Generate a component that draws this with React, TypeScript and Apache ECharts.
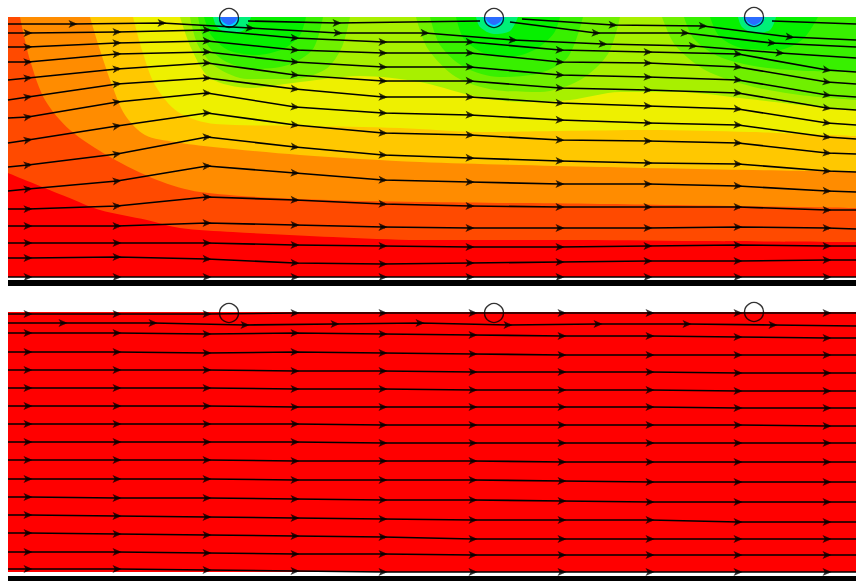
import React, { useEffect, useRef } from "react";
import * as echarts from "echarts";

type Pt = [number, number];

// Section geometry: horizontal distance (m) and depth below the top boundary (m)
const SECTION_LENGTH = 848;
const SECTION_DEPTH = 260;

// Wells sitting on the top boundary of both sections
const WELL_X = [221, 486, 746];
const WELL_DEPTH = [1, 1, 0];

// Pressure level colours, from the far field (level 0) down to the wells (level 11)
const LEVEL_COLORS = [
  "#ff0000", "#ff4a00", "#ff8c00", "#ffc800", "#eef000", "#a8f000",
  "#70f000", "#38f000", "#06f000", "#00f078", "#00d8ff", "#2a6cff",
];

// ---- Upper section: contour edges (each level fills from its edge up to the top) ----
const UPPER_LEVEL_0: Pt[] = [[0, 260], [848, 260]];
const UPPER_LEVEL_1: Pt[] = [[0, 156], [59, 180], [92, 193], [139, 203], [172, 211], [225, 215], [325, 220], [412, 223], [552, 223], [692, 224], [848, 225]];
const UPPER_LEVEL_2: Pt[] = [[12, 0], [22, 43], [37, 83], [62, 113], [102, 140], [149, 163], [192, 175], [292, 182], [412, 185], [592, 187], [848, 191]];
const UPPER_LEVEL_3: Pt[] = [[82, 0], [92, 33], [104, 68], [117, 98], [137, 118], [167, 125], [205, 130], [292, 138], [412, 145], [592, 150], [848, 155]];
const UPPER_LEVEL_4: Pt[] = [[125, 0], [134, 33], [147, 68], [170, 95], [207, 107], [292, 109], [392, 111], [472, 115], [552, 114], [642, 113], [742, 115], [848, 119]];
const UPPER_LEVEL_5: Pt[] = [[172, 0], [184, 33], [202, 61], [242, 71], [292, 65], [352, 59], [412, 65], [462, 78], [512, 85], [562, 83], [612, 75], [672, 75], [732, 81], [792, 88], [848, 93]];

// Drawdown around each well, levels 6 to 11
const WELL_1_LEVELS: Pt[][] = [
  [[182, 0], [190, 28], [208, 50], [240, 62], [285, 62], [318, 52], [334, 30], [342, 0]],
  [[190, 0], [197, 24], [215, 43], [245, 52], [280, 48], [305, 32], [315, 0]],
  [[196, 0], [203, 18], [220, 33], [248, 38], [275, 32], [292, 18], [298, 0]],
  [[205, 0], [209, 10], [221, 16], [236, 13], [243, 0]],
  [[210, 0], [213, 7], [221, 10], [229, 7], [232, 0]],
  [[212, 0], [215, 5], [221, 8], [227, 5], [230, 0]],
];
const WELL_2_LEVELS: Pt[][] = [
  [[408, 0], [420, 32], [448, 60], [487, 73], [532, 75], [572, 63], [600, 37], [612, 0]],
  [[422, 0], [432, 28], [456, 50], [492, 60], [532, 56], [560, 40], [575, 0]],
  [[448, 0], [456, 22], [476, 36], [502, 40], [528, 32], [546, 16], [552, 0]],
  [[468, 0], [472, 10], [486, 17], [502, 14], [510, 0]],
  [[475, 0], [478, 7], [486, 10], [494, 7], [497, 0]],
  [[477, 0], [480, 5], [486, 8], [492, 5], [495, 0]],
];
const WELL_3_LEVELS: Pt[][] = [
  [[654, 0], [667, 28], [697, 53], [742, 69], [792, 78], [848, 83]],
  [[676, 0], [686, 22], [712, 40], [752, 50], [800, 54], [848, 55]],
  [[702, 0], [712, 20], [738, 32], [770, 33], [795, 22], [810, 0]],
  [[730, 0], [734, 10], [746, 16], [762, 13], [768, 0]],
  [[735, 0], [738, 7], [746, 10], [754, 7], [757, 0]],
  [[737, 0], [740, 5], [746, 8], [752, 5], [755, 0]],
];

// ---- Lower section: uniform far-field level ----
const LOWER_LEVEL_0: Pt[] = [[0, 260], [848, 260]];

// ---- Streamlines (depth at each station; interior stations carry an arrow) ----
const UPPER_STATIONS = [0, 20, 109, 199, 287, 375, 462, 552, 640, 730, 819, 848];
const UPPER_STREAM_DEPTHS: number[][] = [
  [16, 16, 15, 13, 21, 25, 25, 33, 35, 37, 53, 55],
  [30, 30, 26, 24, 33, 36, 36, 45, 46, 50, 65, 67],
  [45, 45, 37, 35, 45, 50, 50, 58, 60, 63, 78, 80],
  [63, 61, 52, 46, 58, 64, 64, 71, 73, 76, 91, 93],
  [83, 80, 67, 61, 72, 80, 80, 86, 89, 92, 106, 108],
  [101, 100, 85, 76, 90, 96, 98, 103, 106, 108, 120, 122],
  [126, 123, 109, 96, 108, 116, 118, 123, 124, 126, 136, 137],
  [150, 148, 137, 120, 130, 138, 141, 144, 146, 147, 154, 155],
  [174, 172, 164, 149, 156, 163, 165, 167, 167, 169, 174, 175],
  [192, 192, 189, 180, 183, 187, 189, 190, 190, 190, 193, 193],
  [209, 209, 209, 206, 208, 210, 211, 211, 211, 210, 211, 212],
  [226, 226, 226, 226, 228, 229, 230, 230, 229, 228, 229, 229],
  [241, 241, 240, 242, 246, 247, 246, 245, 244, 244, 243, 243],
  [260, 260, 260, 260, 260, 260, 260, 260, 260, 260, 260, 260],
];
// Streamlines passing just beneath the wells and leaving them
const UPPER_STREAM_SHALLOW: Pt[][] = [
  [[0, 7], [65, 7], [154, 6], [242, 11], [330, 16], [417, 16], [505, 23], [595, 27], [685, 29], [772, 36], [848, 41]],
  [[240, 4], [329, 6], [472, 4]],
  [[502, 5], [588, 16], [677, 16], [764, 26], [848, 30]],
  [[514, 2], [605, 8], [695, 9], [782, 20], [848, 23]],
  [[764, 4], [848, 7]],
];

const LOWER_STATIONS = [0, 20, 109, 199, 287, 375, 465, 554, 642, 730, 819, 848];
const LOWER_STREAM_DEPTHS: number[][] = [
  [2, 2, 2, 2, 1, 1, 1, 1, 1, 1, 1, 1],
  [21, 21, 21, 22, 21, 22, 23, 24, 24, 25, 26, 26],
  [40, 40, 40, 41, 40, 41, 42, 43, 43, 43, 43, 43],
  [58, 58, 58, 58, 59, 59, 60, 60, 60, 61, 61, 61],
  [76, 76, 76, 76, 77, 77, 78, 78, 78, 79, 79, 79],
  [94, 94, 94, 94, 95, 95, 95, 95, 95, 96, 96, 96],
  [112, 112, 112, 112, 112, 113, 113, 113, 113, 113, 114, 114],
  [130, 130, 130, 130, 130, 131, 131, 131, 131, 131, 131, 131],
  [148, 148, 148, 148, 149, 149, 149, 150, 150, 150, 150, 150],
  [167, 167, 167, 167, 168, 168, 168, 169, 170, 170, 170, 170],
  [185, 185, 186, 186, 187, 188, 188, 189, 190, 190, 190, 190],
  [203, 203, 204, 205, 206, 207, 208, 208, 208, 210, 210, 210],
  [221, 221, 222, 223, 224, 225, 227, 227, 227, 227, 227, 227],
  [240, 240, 240, 241, 242, 242, 243, 243, 243, 243, 243, 243],
  [257, 257, 257, 258, 259, 260, 260, 260, 260, 260, 260, 260],
];
const LOWER_STREAM_EXTRA: Pt[][] = [
  [[0, 11], [55, 11], [145, 11], [237, 13], [327, 12], [412, 11], [500, 13], [590, 12], [679, 12], [765, 13], [848, 14]],
];

// Arrowhead with a small square body, pointing along +x
const ARROW_PATH = "path://M0,0L10,5L0,10L2.5,5Z M3,3H7V7H3Z";

function stationLines(stations: number[], depths: number[][]): Pt[][] {
  return depths.map((row) => row.map((d, i) => [stations[i], d] as Pt));
}

function arrowPoints(lines: Pt[][]) {
  const out: { value: Pt; symbolRotate: number }[] = [];
  lines.forEach((pts) => {
    for (let i = 1; i < pts.length - 1; i++) {
      const a = pts[i - 1];
      const b = pts[i + 1];
      const ang = (-Math.atan2(b[1] - a[1], b[0] - a[0]) * 180) / Math.PI;
      out.push({ value: pts[i], symbolRotate: ang });
    }
  });
  return out;
}

function areaSeries(points: Pt[], level: number, axis: number) {
  return {
    type: "line",
    xAxisIndex: axis,
    yAxisIndex: axis,
    data: points,
    smooth: 0.3,
    symbol: "none",
    showSymbol: false,
    silent: true,
    lineStyle: { width: 0, opacity: 0 },
    areaStyle: { color: LEVEL_COLORS[level], opacity: 1, origin: "start" },
    z: 1,
  };
}

function panelSeries(
  axis: number,
  bands: { level: number; points: Pt[] }[],
  streams: Pt[][]
) {
  const list: any[] = bands.map((b) => areaSeries(b.points, b.level, axis));
  list.push({
    type: "lines",
    coordinateSystem: "cartesian2d",
    xAxisIndex: axis,
    yAxisIndex: axis,
    polyline: true,
    clip: false,
    silent: true,
    data: streams.map((c) => ({ coords: c })),
    lineStyle: { color: "#000", width: 1.6, opacity: 1 },
    z: 3,
  });
  list.push({
    type: "scatter",
    xAxisIndex: axis,
    yAxisIndex: axis,
    clip: false,
    silent: true,
    symbol: ARROW_PATH,
    symbolSize: [9, 8],
    itemStyle: { color: "#000" },
    data: arrowPoints(streams),
    z: 4,
  });
  list.push({
    type: "scatter",
    xAxisIndex: axis,
    yAxisIndex: axis,
    clip: false,
    silent: true,
    symbol: "circle",
    symbolSize: 19,
    itemStyle: { color: "rgba(255,255,255,0)", borderColor: "#000", borderWidth: 1.4 },
    data: WELL_X.map((x, i) => [x, WELL_DEPTH[i]]),
    z: 5,
  });
  return list;
}

function buildOption() {
  const wellBands = (levels: Pt[][]) => levels.map((points, i) => ({ level: 6 + i, points }));
  const upperBands = [
    { level: 0, points: UPPER_LEVEL_0 },
    { level: 1, points: UPPER_LEVEL_1 },
    { level: 2, points: UPPER_LEVEL_2 },
    { level: 3, points: UPPER_LEVEL_3 },
    { level: 4, points: UPPER_LEVEL_4 },
    { level: 5, points: UPPER_LEVEL_5 },
    ...wellBands(WELL_1_LEVELS),
    ...wellBands(WELL_2_LEVELS),
    ...wellBands(WELL_3_LEVELS),
  ];
  upperBands.sort((a, b) => a.level - b.level);
  const lowerBands = [{ level: 0, points: LOWER_LEVEL_0 }];

  const upperStreams = [...stationLines(UPPER_STATIONS, UPPER_STREAM_DEPTHS), ...UPPER_STREAM_SHALLOW];
  const lowerStreams = [...stationLines(LOWER_STATIONS, LOWER_STREAM_DEPTHS), ...LOWER_STREAM_EXTRA];

  const xAxis = (grid: number, offset: number, width: number) => ({
    gridIndex: grid,
    type: "value",
    min: 0,
    max: SECTION_LENGTH,
    position: "bottom",
    offset,
    axisLine: { show: true, onZero: false, lineStyle: { color: "#000", width, cap: "butt" } },
    axisTick: { show: false },
    axisLabel: { show: false },
    splitLine: { show: false },
  });
  const yAxis = (grid: number) => ({
    gridIndex: grid,
    type: "value",
    inverse: true,
    min: 0,
    max: SECTION_DEPTH,
    show: false,
    splitLine: { show: false },
  });

  return {
    animation: false,
    backgroundColor: "#fff",
    grid: [
      { left: 8, top: 17, width: 848, height: 260, show: false },
      { left: 8, top: 312, width: 848, height: 260, show: false },
    ],
    xAxis: [xAxis(0, 6, 6), xAxis(1, 6.5, 5)],
    yAxis: [yAxis(0), yAxis(1)],
    series: [...panelSeries(0, upperBands, upperStreams), ...panelSeries(1, lowerBands, lowerStreams)],
  };
}

export default function App() {
  const ref = useRef<HTMLDivElement>(null);
  useEffect(() => {
    if (!ref.current) return;
    const chart = echarts.init(ref.current, null, { renderer: "svg" });
    chart.setOption(buildOption() as any);
    return () => chart.dispose();
  }, []);
  return (
    <div
      ref={ref}
      style={{ position: "absolute", left: 0, top: 0, width: 856, height: 581, background: "#fff" }}
    />
  );
}
